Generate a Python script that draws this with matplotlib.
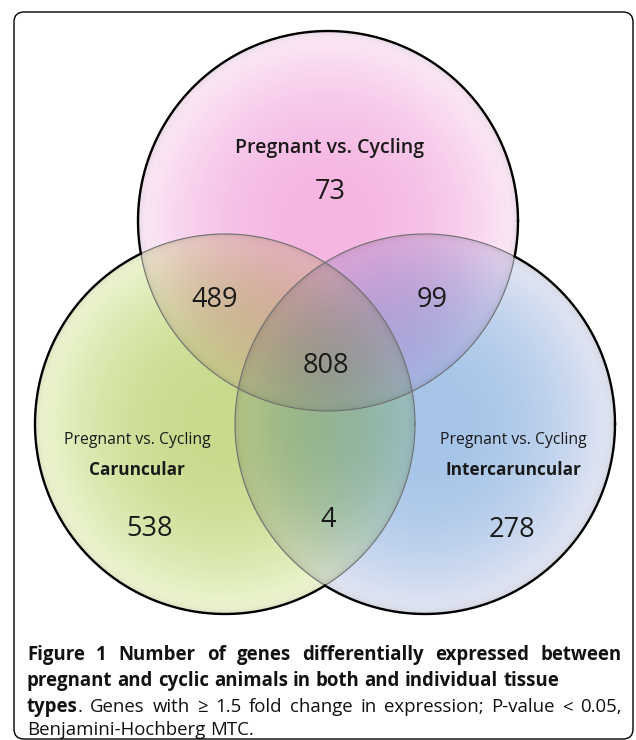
import numpy as np
import matplotlib.pyplot as plt
from matplotlib.patches import FancyBboxPatch

# =========================
# DATA
# =========================
set_names = ["Pregnant vs. Cycling", "Pregnant vs. Cycling", "Pregnant vs. Cycling"]
set_tissues = ["", "Caruncular", "Intercaruncular"]

region_keys = ["P", "PC", "PI", "PCI", "C", "CI", "I"]
region_counts = [73, 489, 99, 808, 538, 4, 278]

caption_lines = [
    [("Figure 1 Number of genes differentially expressed between", True)],
    [("pregnant and cyclic animals in both and individual tissue", True)],
    [("types", True),
     (". Genes with \u2265 1.5 fold change in expression; P-value < 0.05,", False)],
    [("Benjamini-Hochberg MTC.", False)],
]
caption_justify = [True, False, True, False]

# =========================
# LAYOUT (pixels)
# =========================
W, H = 636, 740
R = 190
centers = [(328, 221), (225, 424), (425, 424)]
inner_cols = [(245, 182, 226), (200, 218, 140), (165, 196, 232)]
outer_cols = [(252, 236, 248), (240, 247, 214), (230, 232, 244)]

label_pos = {
    "P": (330, 192), "PC": (215, 300), "PI": (432, 300), "PCI": (326, 366),
    "C": (150, 529), "CI": (328, 520), "I": (512, 530),
}
set_pos = [(330, 148), (137, 440), (513, 440)]

FONT = ["Open Sans", "DejaVu Sans"]

fig = plt.figure(figsize=(W / 100, H / 100), dpi=100)
ax = fig.add_axes([0, 0, 1, 1])
ax.set_xlim(0, W)
ax.set_ylim(H, 0)
ax.axis("off")

# =========================
# GRADIENT FILLS (multiply blend)
# =========================
yy, xx = np.mgrid[0:H * 2, 0:W * 2] / 2.0 + 0.25
img = np.ones((H * 2, W * 2, 3))
for (cx, cy), cin, cout in zip(centers, inner_cols, outer_cols):
    d = np.hypot(xx - cx, yy - cy) / R
    s = np.clip(d, 0, 1) ** 2.2
    cin = np.array(cin) / 255.0
    cout = np.array(cout) / 255.0
    col = cin * (1 - s[..., None]) + cout * s[..., None]
    # slight shading just inside the rim
    col = col * (1 - 0.10 * np.exp(-(1 - np.clip(d, 0, 1)) * R / 4))[..., None]
    mask = d <= 1
    img[mask] *= col[mask]
ax.imshow(img, extent=(0, W, H, 0), interpolation="bilinear", zorder=1)

# =========================
# OUTLINES
# =========================
theta = np.linspace(0, 2 * np.pi, 3000)
for i, (cx, cy) in enumerate(centers):
    px = cx + R * np.cos(theta)
    py = cy + R * np.sin(theta)
    inside = np.zeros_like(px, dtype=bool)
    for j, (ox, oy) in enumerate(centers):
        if j != i:
            inside |= (px - ox) ** 2 + (py - oy) ** 2 < R ** 2
    ax.plot(px, py, color="#707070", lw=0.8, zorder=2)
    ax.plot(np.where(inside, np.nan, px), py, color="black", lw=1.7, zorder=3)

# =========================
# LABELS
# =========================
for key, n in zip(region_keys, region_counts):
    x, y = label_pos[key]
    ax.text(x, y, str(n), fontsize=19.5, family=FONT, ha="center", va="center",
            color="#1a1a1a", zorder=4)

ax.text(set_pos[0][0], set_pos[0][1], set_names[0], fontsize=14, family=FONT,
        fontweight="semibold", ha="center", va="center", color="#1a1a1a", zorder=4)
for k in (1, 2):
    x, y = set_pos[k]
    ax.text(x, y, set_names[k], fontsize=11.3, family=FONT, ha="center",
            va="center", color="#1a1a1a", zorder=4)
    ax.text(x, y + 30, set_tissues[k], fontsize=12.4, family=FONT,
            fontweight="bold", ha="center", va="center", color="#1a1a1a", zorder=4)

# =========================
# CAPTION
# =========================
renderer = fig.canvas.get_renderer()
cap_size = 13.4
cap_x0, cap_x1 = 27, 622
cap_base = [660, 686, 712, 735]
space = 0.27 * cap_size * 100 / 72

for line, just, yb in zip(caption_lines, caption_justify, cap_base):
    tokens = []
    for si, (seg, bold) in enumerate(line):
        words = seg.split(" ")
        for wi, w in enumerate(words):
            if w == "":
                continue
            gap = not (wi == 0 and si > 0 and not seg.startswith(" "))
            if not tokens:
                gap = False
            tokens.append((w, bold, gap))
    texts = []
    for w, bold, gap in tokens:
        t = ax.text(0, yb, w, fontsize=cap_size, family=FONT,
                    fontweight="bold" if bold else "normal",
                    ha="left", va="baseline", color="#111111", zorder=4)
        texts.append((t, gap))
    widths = [t.get_window_extent(renderer).width for t, _ in texts]
    ngaps = sum(1 for _, g in texts if g)
    g = space
    if just and ngaps:
        g = (cap_x1 - cap_x0 - sum(widths)) / ngaps
    x = cap_x0
    for (t, gap), wd in zip(texts, widths):
        if gap:
            x += g
        t.set_x(x)
        x += wd

# border
ax.add_patch(FancyBboxPatch((14, 12), 619, 727, boxstyle="round,pad=0,rounding_size=10",
                            fill=False, ec="black", lw=1.0, zorder=5))

fig.savefig("out.png", dpi=100)
